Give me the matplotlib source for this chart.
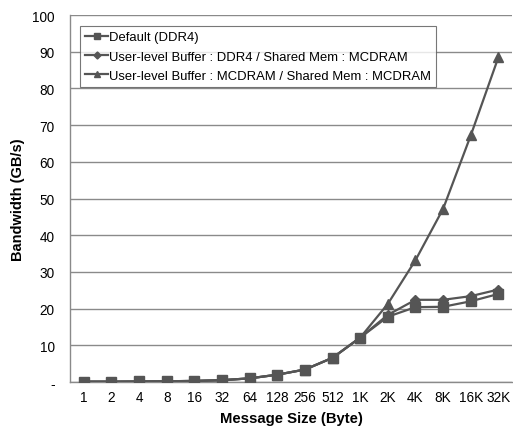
import matplotlib
matplotlib.use("Agg")
import matplotlib.pyplot as plt

plt.rcParams['font.family'] = ['Liberation Sans', 'DejaVu Sans']

sizes = ["1", "2", "4", "8", "16", "32", "64", "128", "256", "512",
         "1K", "2K", "4K", "8K", "16K", "32K"]
default_ddr4 = [0.1, 0.1, 0.15, 0.2, 0.3, 0.5, 1.0, 2.0, 3.4, 6.6,
                12.1, 17.8, 20.4, 20.5, 22.0, 24.0]
buf_ddr4_shm_mcdram = [0.1, 0.1, 0.15, 0.2, 0.3, 0.5, 1.0, 2.0, 3.4, 6.6,
                       12.1, 18.3, 22.4, 22.4, 23.4, 25.2]
buf_mcdram_shm_mcdram = [0.1, 0.1, 0.15, 0.2, 0.3, 0.5, 1.0, 2.0, 3.4, 6.6,
                         12.1, 21.3, 33.2, 47.2, 67.2, 88.5]
yticks = [0, 10, 20, 30, 40, 50, 60, 70, 80, 90, 100]
ytick_labels = ["-", "10", "20", "30", "40", "50", "60", "70", "80", "90", "100"]

series = [
    ("Default (DDR4)", default_ddr4, "s", 6.5),
    ("User-level Buffer : DDR4 / Shared Mem : MCDRAM", buf_ddr4_shm_mcdram, "D", 5.5),
    ("User-level Buffer : MCDRAM / Shared Mem : MCDRAM", buf_mcdram_shm_mcdram, "^", 7.5),
]

line_color = "#555555"
grid_color = "#8a8a8a"

fig = plt.figure(figsize=(5.13, 4.27), dpi=100)
ax = fig.add_axes([0.1365, 0.103, 0.862, 0.8595])

x = list(range(len(sizes)))
for label, vals, marker, ms in series:
    ax.plot(x, vals, color=line_color, lw=1.6, marker=marker, ms=ms,
            markerfacecolor=line_color, markeredgecolor=line_color, label=label,
            zorder=3)

ax.set_xlim(-0.5, len(sizes) - 0.5)
ax.set_ylim(0, 100)
ax.set_yticks(yticks)
ax.set_yticklabels(ytick_labels)
ax.set_xticks(x)
ax.set_xticklabels(sizes)
ax.tick_params(axis='both', length=0, labelsize=9.8, colors="black")
ax.tick_params(axis='y', pad=11)
ax.tick_params(axis='x', pad=6)

ax.grid(axis='y', color=grid_color, lw=1.0, zorder=0)
ax.set_axisbelow(True)
for side in ("top", "right"):
    ax.spines[side].set_visible(False)
ax.spines['left'].set_color(grid_color)
ax.spines['bottom'].set_color(grid_color)
ax.spines['left'].set_linewidth(1.0)
ax.spines['bottom'].set_linewidth(1.0)

ax.set_xlabel("Message Size (Byte)", fontsize=10.7, fontweight='bold', labelpad=5)
ax.set_ylabel("Bandwidth (GB/s)", fontsize=10.5, fontweight='bold', labelpad=5)

leg = ax.legend(loc='upper left', bbox_to_anchor=(0.022, 0.97), fontsize=9.4,
                frameon=True, fancybox=False, edgecolor="#555555",
                handlelength=1.8, handletextpad=0.05, labelspacing=0.55,
                borderpad=0.4, borderaxespad=0.0, markerscale=0.65)
leg.get_frame().set_linewidth(0.8)

fig.savefig("out.png", dpi=100)
